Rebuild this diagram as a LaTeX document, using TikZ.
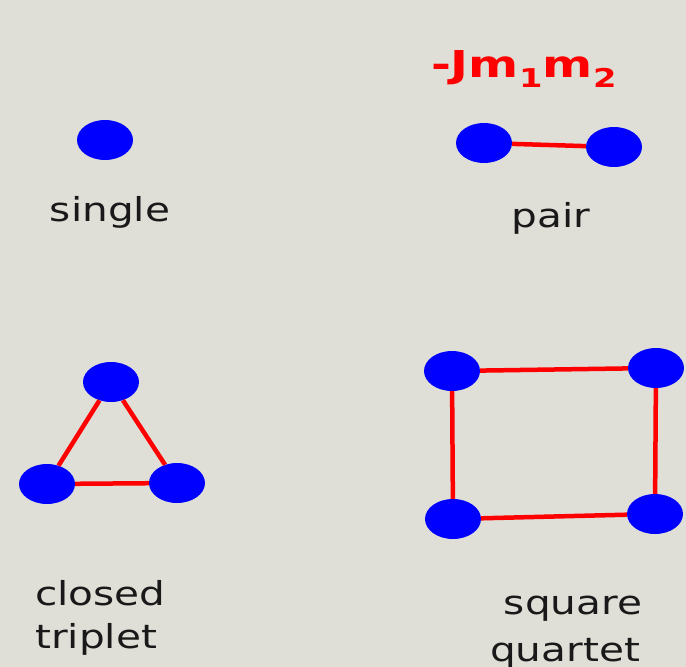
\documentclass[tikz,border=0pt]{standalone}
\usepackage{fontspec}
\setmainfont[FakeStretch=1.23]{DejaVu Sans}
\newfontfamily\formulafont[FakeStretch=1.3]{DejaVu Sans}
\usepackage{tikz}
\usetikzlibrary{positioning, shapes.geometric}
\definecolor{paper}{RGB}{224,223,215}
\definecolor{spinblue}{RGB}{0,0,255}
\definecolor{bondred}{RGB}{255,0,0}

\begin{document}
\begin{tikzpicture}[
  x=1pt, y=-1pt,
  font=\fontsize{33}{44}\selectfont,
  spin/.style={ellipse,fill=spinblue,minimum width=56pt,minimum height=40pt,inner sep=0pt},
  bond/.style={draw=bondred,line width=4.5pt},
  lbl/.style={text=black!90,align=center,inner sep=0pt}
]
\fill[paper] (0,0) rectangle (686,667);
\useasboundingbox (0,0) rectangle (686,667);
% single
\node[spin] (s) at (105,140) {};
\node[lbl] (slbl) at (110,212) {single};
% pair
\node[spin] (p1) at (484,143) {};
\node[spin] (p2) at (614,147) {};
\draw[bond] (p1) -- (p2);
\node[lbl] (plbl) at (551,218) {pair};
\node[text=bondred,inner sep=0pt,anchor=base] (coupling) at (524,77)
  {\formulafont\fontsize{37}{40}\selectfont\bfseries -Jm\textsubscript{1}m\textsubscript{2}};
% closed triplet
\node[spin] (t1) at (111,382) {};
\node[spin] (t2) at (47,484) {};
\node[spin] (t3) at (177,483) {};
\draw[bond] (t1) -- (t2) -- (t3) -- (t1);
\node[lbl,anchor=base west] (tlbl1) at (35,605) {closed};
\node[lbl,anchor=base west] (tlbl2) at (35,648) {triplet};
% square quartet
\node[spin] (q1) at (452,371) {};
\node[spin] (q2) at (656,368) {};
\node[spin] (q3) at (655,514) {};
\node[spin] (q4) at (453,519) {};
\draw[bond] (q1) -- (q2) -- (q3) -- (q4) -- (q1);
\node[lbl,anchor=base] (qlbl1) at (573,614) {square};
\node[lbl,anchor=base] (qlbl2) at (565,661) {quartet};
\end{tikzpicture}
\end{document}
